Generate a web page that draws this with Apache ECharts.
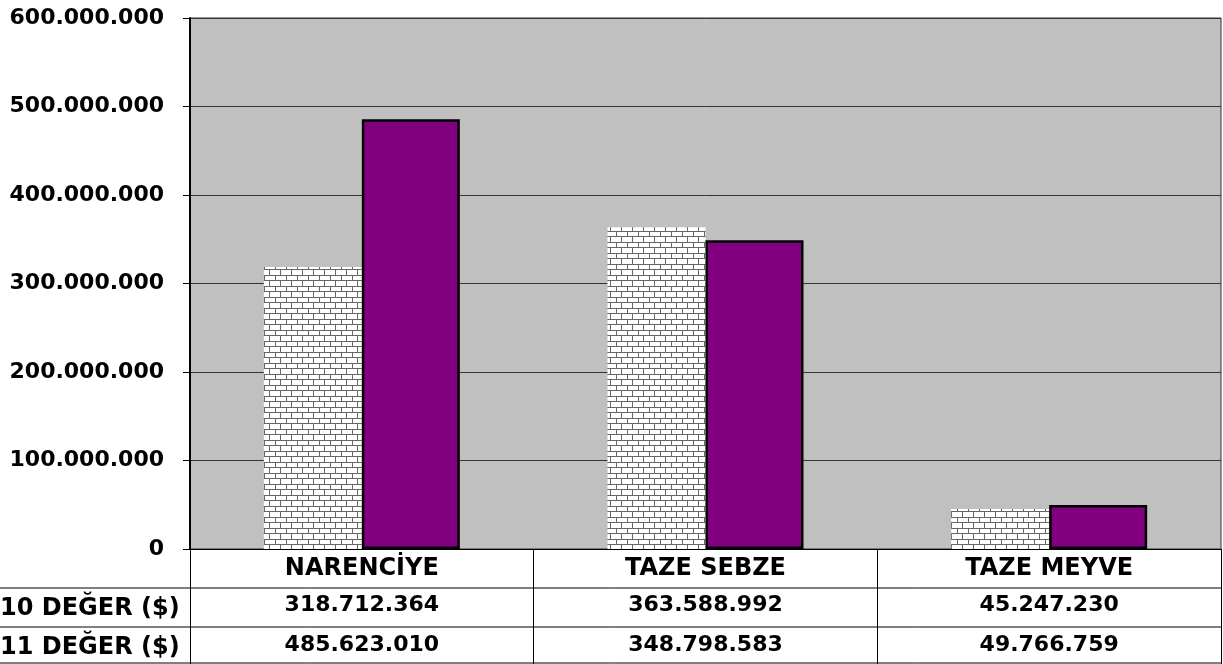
<!DOCTYPE html>
<html>
<head>
<meta charset="utf-8">
<script src="https://cdn.jsdelivr.net/npm/echarts@6/dist/echarts.min.js"></script>
<style>
  html, body { margin: 0; padding: 0; background: #fff; }
  #chart { width: 1223px; height: 664px; }
</style>
</head>
<body>
<div id="chart"></div>
<script>
// data
const categories = ['NARENCİYE', 'TAZE SEBZE', 'TAZE MEYVE'];
const values10 = [318712364, 363588992, 45247230];
const values11 = [485623010, 348798583, 49766759];
const rowLabels = ['10 DEĞER ($)', '11 DEĞER ($)'];

const FONT = 'DejaVu Sans';

function fmt(n) {
  return String(n).replace(/\B(?=(\d{3})+(?!\d))/g, '.');
}

// brick pattern like the excel fill
function brickPattern() {
  const c = document.createElement('canvas');
  c.width = 11;
  c.height = 11;
  const ctx = c.getContext('2d');
  ctx.fillStyle = '#ffffff';
  ctx.fillRect(0, 0, 11, 11);
  ctx.fillStyle = '#666666';
  ctx.fillRect(0, 0, 11, 1);
  ctx.fillRect(0, 1, 1, 4);
  ctx.fillRect(0, 5, 11, 1);
  ctx.fillRect(5, 6, 1, 5);
  return c;
}

const labelStyle = {
  fontFamily: FONT,
  fontWeight: 'bold',
  fontSize: 22,
  color: '#000'
};

const chart = echarts.init(document.getElementById('chart'));
chart.setOption({
  backgroundColor: '#ffffff',
  animation: false,
  grid: {
    left: 190,
    right: 2,
    top: 18,
    bottom: 115,
    show: true,
    backgroundColor: '#c0c0c0',
    borderColor: '#333',
    borderWidth: 1
  },
  xAxis: [
    {
      type: 'category',
      data: categories,
      position: 'bottom',
      axisLine: { lineStyle: { color: '#000', width: 1 } },
      axisTick: { show: true, interval: 0, length: 115, lineStyle: { color: '#000', width: 1 } },
      axisLabel: Object.assign({}, labelStyle, { interval: 0, margin: 20, verticalAlign: 'middle', fontSize: 24 })
    },
    {
      type: 'category',
      data: categories,
      position: 'bottom',
      offset: 39,
      axisLine: { show: false },
      axisTick: { show: false },
      axisLabel: Object.assign({
        interval: 0, margin: 17, verticalAlign: 'middle',
        formatter: (v, i) => fmt(values10[i])
      }, labelStyle)
    },
    {
      type: 'category',
      data: categories,
      position: 'bottom',
      offset: 77,
      axisLine: { show: false },
      axisTick: { show: false },
      axisLabel: Object.assign({
        interval: 0, margin: 19, verticalAlign: 'middle',
        formatter: (v, i) => fmt(values11[i])
      }, labelStyle)
    }
  ],
  yAxis: {
    type: 'value',
    min: 0,
    max: 600000000,
    interval: 100000000,
    axisLine: { show: true, lineStyle: { color: '#000', width: 2 } },
    axisTick: { show: true, length: 7, lineStyle: { color: '#000' } },
    splitLine: { show: true, lineStyle: { color: '#333', width: 1 } },
    axisLabel: Object.assign({ margin: 26, formatter: v => fmt(v) }, labelStyle)
  },
  graphic: [
    { type: 'line', shape: { x1: 0, y1: 588, x2: 1221, y2: 588 }, style: { stroke: '#000', lineWidth: 1 } },
    { type: 'line', shape: { x1: 0, y1: 627, x2: 1221, y2: 627 }, style: { stroke: '#000', lineWidth: 1 } },
    { type: 'line', shape: { x1: 0, y1: 663, x2: 1221, y2: 663 }, style: { stroke: '#000', lineWidth: 1 } },
    {
      type: 'text', left: 0, top: 597,
      style: { text: rowLabels[0], font: 'bold 24px "' + FONT + '"', fill: '#000' }
    },
    {
      type: 'text', left: 0, top: 636,
      style: { text: rowLabels[1], font: 'bold 24px "' + FONT + '"', fill: '#000' }
    }
  ],
  series: [
    {
      type: 'bar',
      data: values10,
      barWidth: 98,
      barGap: '0%',
      itemStyle: {
        color: { image: brickPattern(), repeat: 'repeat' },
        borderWidth: 0
      }
    },
    {
      type: 'bar',
      data: values11,
      barWidth: 98,
      itemStyle: {
        color: '#800080',
        borderColor: '#000',
        borderWidth: 2.5
      }
    }
  ]
});
</script>
</body>
</html>
